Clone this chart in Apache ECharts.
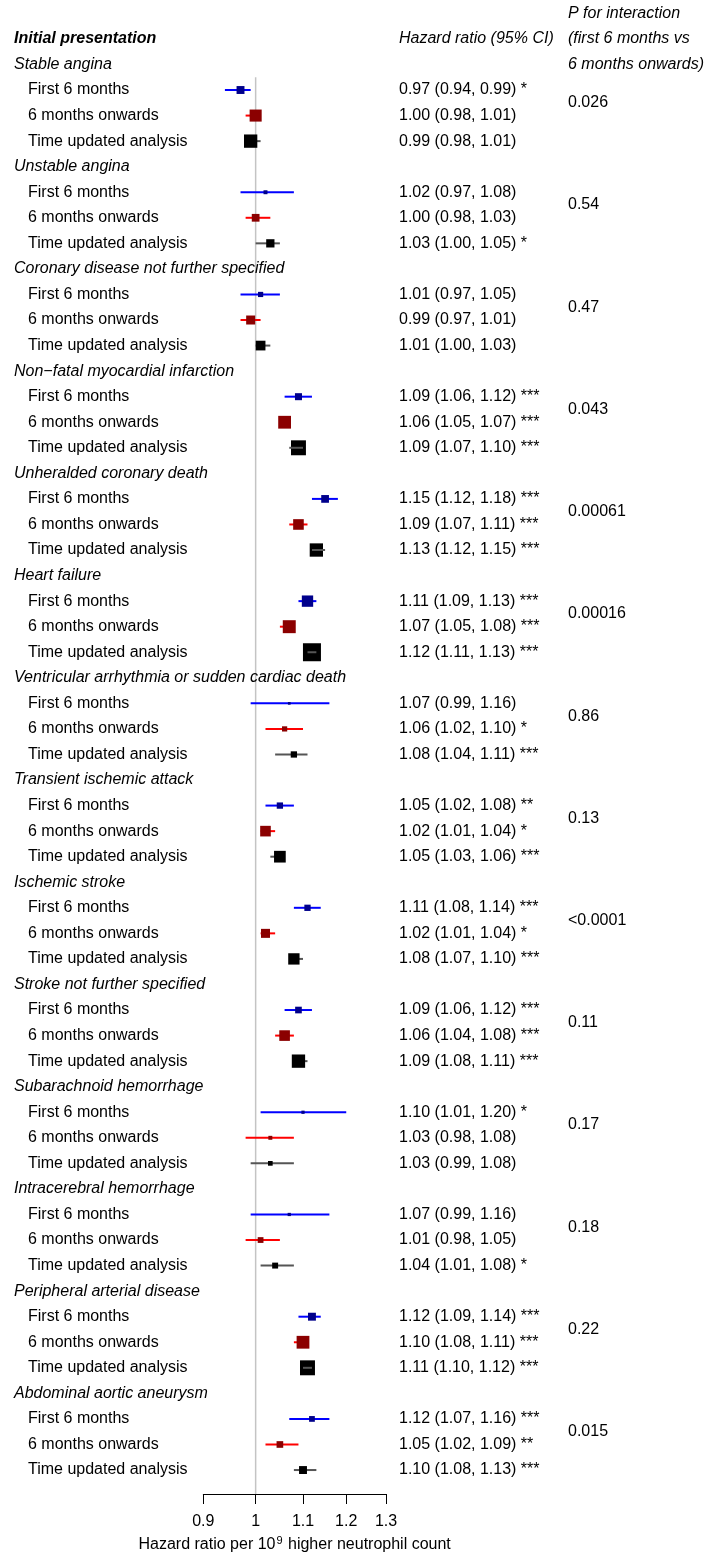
<!DOCTYPE html>
<html>
<head>
<meta charset="utf-8">
<script src="https://cdn.jsdelivr.net/npm/echarts@6/dist/echarts.min.js"></script>
<style>html,body{margin:0;padding:0;background:#fff}#c{width:707px;height:1552px}</style>
</head>
<body>
<div id="c"></div>
<script>
// ---------- data ----------
const categories = ['Stable angina','Unstable angina','Coronary disease not further specified',
  'Non\u2212fatal myocardial infarction','Unheralded coronary death','Heart failure',
  'Ventricular arrhythmia or sudden cardiac death','Transient ischemic attack','Ischemic stroke',
  'Stroke not further specified','Subarachnoid hemorrhage','Intracerebral hemorrhage',
  'Peripheral arterial disease','Abdominal aortic aneurysm'];
const periods = ['First 6 months','6 months onwards','Time updated analysis'];

const firstHR = [0.97,1.02,1.01,1.09,1.15,1.11,1.07,1.05,1.11,1.09,1.10,1.07,1.12,1.12];
const firstLo = [0.94,0.97,0.97,1.06,1.12,1.09,0.99,1.02,1.08,1.06,1.01,0.99,1.09,1.07];
const firstHi = [0.99,1.08,1.05,1.12,1.18,1.13,1.16,1.08,1.14,1.12,1.20,1.16,1.14,1.16];
const firstStars = ['*','','','***','***','***','','**','***','***','*','','***','***'];
const firstWeight = [0.44,0.22,0.29,0.39,0.43,0.63,0.15,0.35,0.35,0.37,0.18,0.18,0.44,0.32];

const laterHR = [1.00,1.00,0.99,1.06,1.09,1.07,1.06,1.02,1.02,1.06,1.03,1.01,1.10,1.05];
const laterLo = [0.98,0.98,0.97,1.05,1.07,1.05,1.02,1.01,1.01,1.04,0.98,0.98,1.08,1.02];
const laterHi = [1.01,1.03,1.01,1.07,1.11,1.08,1.10,1.04,1.04,1.08,1.08,1.05,1.11,1.09];
const laterStars = ['','','','***','***','***','*','*','*','***','','','***','**'];
const laterWeight = [0.67,0.43,0.50,0.71,0.59,0.72,0.29,0.59,0.50,0.59,0.22,0.32,0.71,0.37];

const timeHR = [0.99,1.03,1.01,1.09,1.13,1.12,1.08,1.05,1.08,1.09,1.03,1.04,1.11,1.10];
const timeLo = [0.98,1.00,1.00,1.07,1.12,1.11,1.04,1.03,1.07,1.08,0.99,1.01,1.10,1.08];
const timeHi = [1.01,1.05,1.03,1.10,1.15,1.13,1.11,1.06,1.10,1.11,1.08,1.08,1.12,1.13];
const timeStars = ['','*','','***','***','***','***','***','***','***','','*','***','***'];
const timeWeight = [0.74,0.46,0.54,0.83,0.74,1.00,0.35,0.65,0.63,0.74,0.26,0.33,0.83,0.44];

const pInteraction = ['0.026','0.54','0.47','0.043','0.00061','0.00016','0.86','0.13','<0.0001','0.11','0.17','0.18','0.22','0.015'];

const tickLabels = [0.9, 1, 1.1, 1.2, 1.3];

// ---------- layout / style ----------
const FONT = '"Liberation Sans", Arial, Helvetica, sans-serif';
const FS = 16;
const ROWPX = 25.556;
const ROW0 = 38.9;
const YMIN = -ROW0 / ROWPX;
const AXIS_Y = 1494;
const YMAX_TEXT = (1552 - ROW0) / ROWPX;
const YMAX_PLOT = (AXIS_Y - ROW0) / ROWPX;
const PLOT_LEFT = 203.3, PLOT_RIGHT = 386;
const MAXBOX = 18;
const X_HEAD = 14, X_ROW = 28, X_HR = 399, X_P = 568;

// ---------- text items ----------
const textItems = [];
function addText(x, row, text, opt) { textItems.push(Object.assign({x, row, text}, opt || {})); }
addText(X_HEAD, 0, 'Initial presentation', {fontStyle:'italic', fontWeight:'bold'});
addText(X_HR, 0, 'Hazard ratio (95% CI)', {fontStyle:'italic'});
addText(X_P, -1, 'P for interaction', {fontStyle:'italic'});
addText(X_P, 0, '(first 6 months vs', {fontStyle:'italic'});
addText(X_P, 1, '6 months onwards)', {fontStyle:'italic'});

const sets = [
  [firstHR, firstLo, firstHi, firstStars],
  [laterHR, laterLo, laterHi, laterStars],
  [timeHR, timeLo, timeHi, timeStars]
];
function fmt(h, l, u, s) {
  return h.toFixed(2) + ' (' + l.toFixed(2) + ', ' + u.toFixed(2) + ')' + (s ? ' ' + s : '');
}
categories.forEach((cat, g) => {
  const head = 4 * g + 1;
  addText(X_HEAD, head, cat, {fontStyle:'italic'});
  periods.forEach((p, k) => {
    addText(X_ROW, head + 1 + k, p);
    const [H, L, U, S] = sets[k];
    addText(X_HR, head + 1 + k, fmt(H[g], L[g], U[g], S[g]));
  });
  addText(X_P, head + 1.5, pInteraction[g]);
});

// CI line is redrawn over the box when the interval is narrower than the box (time-updated rows)
function forestSeries(name, hr, lo, hi, w, k, lineColor, boxColor, overlayWhenNarrow) {
  return {
    type: 'custom', name: name, xAxisIndex: 1, yAxisIndex: 1, clip: false, silent: true,
    data: hr.map((v, i) => [Math.log(v), Math.log(lo[i]), Math.log(hi[i]), 4 * i + 2 + k, w[i]]),
    encode: {x: [0, 1, 2], y: 3},
    renderItem: function (params, api) {
      const row = api.value(3);
      const c = api.coord([api.value(0), row]);
      const l = api.coord([api.value(1), row]);
      const h = api.coord([api.value(2), row]);
      const s = api.value(4) * MAXBOX;
      const line = {type: 'line', shape: {x1: l[0], y1: c[1], x2: h[0], y2: c[1]},
        style: {stroke: lineColor, lineWidth: 2}};
      const rect = {type: 'rect', shape: {x: c[0] - s / 2, y: c[1] - s / 2, width: s, height: s},
        style: {fill: boxColor}};
      const onTop = overlayWhenNarrow && (h[0] - l[0]) < s;
      return {type: 'group', children: onTop ? [rect, line] : [line, rect]};
    }
  };
}

const chart = echarts.init(document.getElementById('c'), null, {renderer: 'canvas'});
chart.setOption({
  animation: false,
  backgroundColor: '#ffffff',
  grid: [
    {left: 0, top: 0, width: 707, height: 1552, outerBoundsMode: 'none', containLabel: false},
    {left: PLOT_LEFT, top: 0, width: PLOT_RIGHT - PLOT_LEFT, height: AXIS_Y, outerBoundsMode: 'none', containLabel: false}
  ],
  xAxis: [
    {gridIndex: 0, type: 'value', min: 0, max: 707, show: false},
    {gridIndex: 1, type: 'value', position: 'bottom', min: Math.log(0.9), max: Math.log(1.3),
      splitLine: {show: false},
      axisLine: {show: true, onZero: false, lineStyle: {color: '#000', width: 1}},
      axisTick: {show: true, length: 10, lineStyle: {color: '#000', width: 1},
        customValues: tickLabels.map(Math.log)},
      axisLabel: {show: true, color: '#000', fontSize: FS, fontFamily: FONT, margin: 20,
        customValues: tickLabels.map(Math.log),
        formatter: v => String(Math.round(Math.exp(v) * 10) / 10)},
      name: '{a|Hazard ratio per 10}{s|9}{a| higher neutrophil count}',
      nameLocation: 'middle', nameGap: 41,
      nameTextStyle: {color: '#000', fontFamily: FONT, fontSize: FS,
        rich: {a: {fontSize: FS, fontFamily: FONT, color: '#000', lineHeight: 18, verticalAlign: 'bottom'},
               s: {fontSize: 11, fontFamily: FONT, color: '#000', lineHeight: 11, verticalAlign: 'top', padding: [0, 1, 0, 1]}}}
    }
  ],
  yAxis: [
    {gridIndex: 0, type: 'value', min: YMIN, max: YMAX_TEXT, inverse: true, show: false},
    {gridIndex: 1, type: 'value', min: YMIN, max: YMAX_PLOT, inverse: true, show: false}
  ],
  series: [
    {
      type: 'custom', xAxisIndex: 1, yAxisIndex: 1, clip: false, silent: true,
      data: [[0, 1.5, YMAX_PLOT]],
      renderItem: function (params, api) {
        const a = api.coord([api.value(0), api.value(1)]);
        const b = api.coord([api.value(0), api.value(2)]);
        return {type: 'line', shape: {x1: a[0], y1: a[1], x2: b[0], y2: b[1]},
          style: {stroke: '#c4c4c4', lineWidth: 1.5}};
      }
    },
    forestSeries('first', firstHR, firstLo, firstHi, firstWeight, 0, '#0000ff', '#00008b', false),
    forestSeries('later', laterHR, laterLo, laterHi, laterWeight, 1, '#ff0000', '#8b0000', false),
    forestSeries('time', timeHR, timeLo, timeHi, timeWeight, 2, '#555555', '#000000', true),
    {
      type: 'custom', xAxisIndex: 0, yAxisIndex: 0, clip: false, silent: true,
      data: textItems.map((t, i) => [t.x, t.row, i]),
      renderItem: function (params, api) {
        const t = textItems[api.value(2)];
        const p = api.coord([api.value(0), api.value(1)]);
        return {type: 'text', x: p[0], y: p[1],
          style: {text: t.text, fill: '#000', fontSize: FS, fontFamily: FONT,
            fontStyle: t.fontStyle || 'normal', fontWeight: t.fontWeight || 'normal',
            align: 'left', verticalAlign: 'middle'}};
      }
    }
  ]
});
</script>
</body>
</html>
